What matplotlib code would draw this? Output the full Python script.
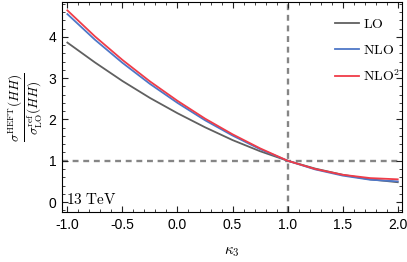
import matplotlib
matplotlib.use('Agg')
import matplotlib.pyplot as plt
from matplotlib.ticker import MultipleLocator, FormatStrFormatter

plt.rcParams['mathtext.fontset'] = 'cm'

# kappa_3 values and ratios
kappa = [-1.0, -0.75, -0.5, -0.25, 0.0, 0.25, 0.5, 0.75, 1.0, 1.25, 1.5, 1.75, 2.0]
lo = [3.86, 3.38, 2.93, 2.52, 2.15, 1.81, 1.50, 1.23, 1.00, 0.81, 0.66, 0.55, 0.48]
nlo = [4.55, 3.93, 3.37, 2.86, 2.40, 1.98, 1.61, 1.28, 1.00, 0.79, 0.64, 0.54, 0.50]
nlo2 = [4.64, 4.01, 3.44, 2.92, 2.45, 2.02, 1.64, 1.30, 1.00, 0.80, 0.66, 0.58, 0.55]

labels = [r'$\mathrm{LO}$', r'$\mathrm{NLO}$', r'$\mathrm{NLO}^2$']
colors = ['#606060', '#4e77c7', '#f03c48']

fig = plt.figure(figsize=(4.07, 2.62), dpi=100)
ax = fig.add_axes([0.152, 0.191, 0.836, 0.801])

ax.axhline(1.0, color='#858585', lw=1.7, ls=(0, (2.5, 2)), zorder=1)
ax.axvline(1.0, color='#858585', lw=1.7, ls=(0, (2.5, 2)), zorder=1)

for y, lab, c in zip([lo, nlo, nlo2], labels, colors):
    ax.plot(kappa, y, color=c, lw=1.3, label=lab, zorder=2)

ax.set_xlim(-1.05, 2.04)
ax.set_ylim(-0.24, 4.84)
ax.xaxis.set_major_locator(MultipleLocator(0.5))
ax.xaxis.set_minor_locator(MultipleLocator(0.1))
ax.yaxis.set_major_locator(MultipleLocator(1))
ax.yaxis.set_minor_locator(MultipleLocator(0.2))
ax.xaxis.set_major_formatter(FormatStrFormatter('%.1f'))
ax.tick_params(which='both', direction='in', top=True, right=True,
               labelsize=10, labelfontfamily='Liberation Sans', color='#222222')
ax.tick_params(which='major', length=4, width=0.8, pad=4)
ax.tick_params(which='minor', length=2, width=0.6)

ax.set_xlabel(r'$\kappa_3$', fontsize=11, labelpad=9)
ax.set_ylabel(r'$\dfrac{\sigma^{\mathrm{HEFT}}(HH)}{\sigma^{\mathrm{ref}}_{\mathrm{LO}}(HH)}$',
              fontsize=9.5)
ax.yaxis.set_label_coords(-0.052, 0.5)

ax.text(0.012, 0.04, r'$13\ \mathrm{TeV}$', transform=ax.transAxes, fontsize=11)

leg = ax.legend(loc='upper right', frameon=False, fontsize=10,
                handlelength=1.7, handletextpad=0.3, labelspacing=0.85,
                bbox_to_anchor=(1.03, 0.99))

fig.savefig('out.png', dpi=100)
